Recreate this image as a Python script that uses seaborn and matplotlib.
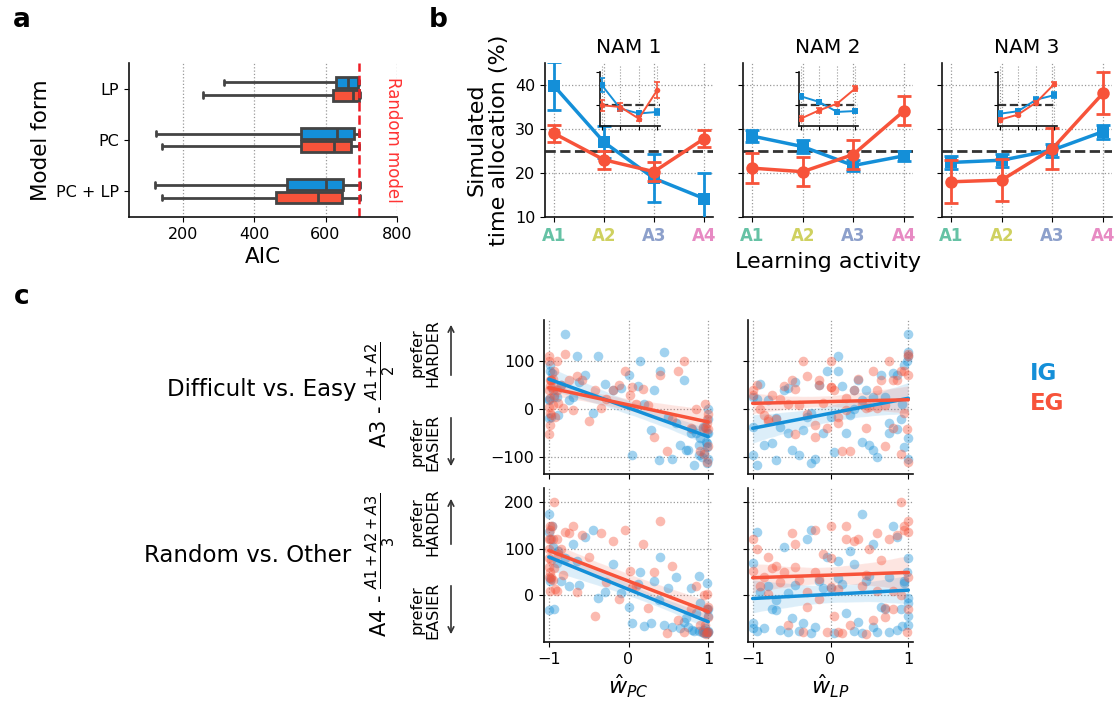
import numpy as np
import pandas as pd
import matplotlib
matplotlib.use('Agg')
import matplotlib.pyplot as plt
import seaborn as sns

# ---------------- data ----------------
# panel a : AIC distributions (min, q1, median, q3, max) per model form and group
aic_models = ['LP', 'PC', 'PC + LP']
aic_lp_ig = [315, 630, 664, 690, 694]
aic_lp_eg = [256, 620, 678, 694, 697]
aic_pc_ig = [125, 530, 633, 680, 694]
aic_pc_eg = [141, 532, 623, 671, 694]
aic_pclp_ig = [122, 493, 602, 650, 697]
aic_pclp_eg = [141, 461, 580, 646, 697]
random_model_aic = 693

# panel b : simulated time allocation (%)
activities = ['A1', 'A2', 'A3', 'A4']
activity_colors = ['#66c2a5', '#cfd160', '#8da0cb', '#e78ac3']
nam_titles = ['NAM 1', 'NAM 2', 'NAM 3']
ig_mean = [[39.8, 27.0, 18.8, 14.2], [28.4, 26.0, 21.7, 23.9], [22.4, 22.9, 25.2, 29.4]]
ig_err = [[5.5, 3.6, 5.5, 5.7], [1.3, 1.4, 1.3, 1.2], [1.4, 1.5, 1.5, 1.6]]
eg_mean = [[29.0, 23.0, 20.3, 27.8], [21.1, 20.3, 24.2, 34.1], [18.0, 18.4, 25.5, 38.1]]
eg_err = [[1.9, 2.0, 2.1, 2.0], [3.4, 3.3, 3.3, 3.3], [4.9, 4.7, 4.7, 4.8]]
# insets
ig_inset = [[34.0, 23.5, 21.3, 22.0], [29.0, 26.5, 22.0, 22.4], [21.2, 22.3, 27.5, 29.5]]
ig_inset_err = [[3.0, 1.2, 1.0, 1.2], [1.0, 1.0, 1.0, 1.0], [1.0, 0.8, 1.0, 1.2]]
eg_inset = [[25.0, 24.2, 19.0, 31.8], [19.0, 22.7, 25.7, 32.5], [18.5, 20.8, 26.2, 34.5]]
eg_inset_err = [[2.5, 2.0, 1.2, 3.5], [1.0, 1.0, 0.8, 1.2], [0.8, 0.8, 0.8, 0.8]]
chance_level = 25

# panel c : per-participant weights and preferences
ig_wpc = [-1.00, -1.00, -0.98, -0.97, -0.99, -0.95, -0.93, -0.90, -0.88, -0.85,
          -0.80, -0.75, -0.70, -0.62, -0.55, -0.45, -0.38, -0.30, -0.20, -0.10,
          0.00, 0.05, 0.12, 0.20, 0.28, 0.32, 0.38, 0.45, 0.50, 0.55,
          0.60, 0.65, 0.70, 0.72, 0.75, 0.78, 0.80, 0.82, 0.85, 0.88,
          0.90, 0.92, 0.94, 0.95, 0.96, 0.97, 0.98, 0.98, 0.99, 0.99,
          1.00, 1.00, 1.00, 1.00, -1.00, -0.96, 0.15, -0.65, 0.40, 0.88]
ig_wlp = [-0.95, 0.40, 0.95, -0.30, 0.10, -0.60, 0.70, -1.00, 0.25, -0.15,
          1.00, -0.80, 0.55, -0.45, 0.85, -0.25, 1.00, -0.90, 0.30, -0.55,
          0.65, -1.00, 0.15, 0.92, -0.35, 0.45, -0.70, 1.00, 0.00, -0.20,
          0.75, -0.85, 0.35, -0.50, 0.55, -0.10, 0.85, -0.95, 0.20, -0.40,
          1.00, 0.60, -0.65, 0.05, -1.00, 0.40, 0.95, -0.25, 0.75, -0.75,
          0.30, 1.00, -0.55, 0.90, -0.70, 0.80, 0.98, 0.10, -0.05, 0.50]
ig_diff = [20, 18, 91, -16, 80, 40, 26, 25, -13, 51,
           157, 19, 25, 56, 70, -9, 110, 52, 40, 44,
           70, -96, 49, 10, -43, 40, -106, 120, -16, -104,
           -30, -75, 60, -85, -86, -50, -42, -118, -50, -97,
           -60, -100, -37, -90, -37, -70, -79, -114, -50, -72,
           0, -104, -50, -20, -19, 76, 100, 110, 80, -75]
ig_rand = [136, 174, 30, 120, 36, 104, -29, 69, 95, 30,
           80, 20, 110, 22, 125, 141, -6, 7, 67, 5,
           -25, -59, 23, -67, -61, 31, -10, -65, 15, -69,
           40, -70, -57, -50, -69, 15, -76, -78, -38, -78,
           -17, -80, -75, -81, -70, -81, 27, -81, -79, -30,
           -78, -44, -80, -30, -32, 150, 50, 73, 83, 42]

eg_wpc = [-1.00, -1.00, -1.00, -0.99, -0.99, -0.98, -0.98, -0.97, -0.97, -0.96,
          -0.95, -0.95, -0.94, -0.93, -0.92, -0.90, -0.88, -0.85, -0.82, -0.80,
          -0.75, -0.70, -0.65, -0.58, -0.50, -0.42, -0.35, -0.28, -0.20, -0.12,
          -0.05, 0.02, 0.10, 0.18, 0.25, 0.32, 0.40, 0.48, 0.55, 0.62,
          0.70, 0.78, 0.85, 0.90, 0.93, 0.95, 0.96, 0.97, 0.98, 0.98,
          0.99, 1.00, 1.00, 1.00, -1.00, -1.00, -0.99, -0.97, -0.90, 0.05]
eg_wlp = [-1.00, 0.50, 1.00, -0.20, 0.80, -0.60, 0.20, -0.85, 0.65, 0.00,
          -0.40, 0.35, 0.90, -0.75, 0.10, 0.75, -0.10, -0.95, 0.45, 1.00,
          -0.50, 0.20, -0.30, 0.85, -0.80, 0.05, 0.60, -0.65, 0.30, -0.15,
          0.95, -1.00, 0.40, -0.45, 0.70, -0.20, 1.00, 0.15, -0.70, 0.55,
          -0.35, 0.80, -0.90, 0.25, -0.05, 0.90, -0.55, 0.45, 1.00, -0.80,
          0.10, 0.70, -0.30, 0.98, 0.00, -0.45, 0.95, -0.15, 0.60, 0.00]
eg_diff = [40, 4, 110, -34, 60, 48, 22, -13, 60, 46,
           8, 62, 80, 30, -16, 100, 13, 51, 2, 115,
           60, -3, 68, 60, -26, 40, 1, 20, 40, 50,
           80, 30, 10, 41, 9, -58, 70, -87, -20, 80,
           100, -40, 0, -87, -40, -95, 10, -40, -111, -20,
           -30, -78, -10, -42, 100, -52, -8, 60, 39, 45]
eg_rand = [120, 100, 40, 140, 8, 50, 120, 40, 76, 150,
           32, 122, 200, 58, 14, 120, 89, 100, 44, 136,
           133, 150, 7, 130, 83, -46, 133, 29, 116, -8,
           140, 52, 20, 110, -27, 50, 160, -82, 63, -53,
           -80, -30, 20, -64, -80, 0, -64, -83, -30, 2,
           -79, -48, -25, -80, 80, 60, 150, 35, 10, 17]

# ---------------- style ----------------
BLUE = '#148fd8'
RED = '#f7533a'
DARK = '#444444'
sns.set_style('ticks')
plt.rcParams['font.family'] = ['DejaVu Sans']
plt.rcParams['mathtext.fontset'] = 'dejavusans'
plt.rcParams['xtick.labelsize'] = 11.5
plt.rcParams['ytick.labelsize'] = 11.5
plt.rcParams['axes.edgecolor'] = '#111111'
plt.rcParams['axes.linewidth'] = 1.2
plt.rcParams['text.color'] = 'black'
plt.rcParams['axes.labelcolor'] = 'black'
plt.rcParams['xtick.color'] = 'black'
plt.rcParams['ytick.color'] = 'black'

W, H = 1120, 704
fig = plt.figure(figsize=(W / 100, H / 100), dpi=100)


def box(l, t, r, b):
    return [l / W, 1 - b / H, (r - l) / W, (b - t) / H]


def grid(ax, axis='both'):
    ax.grid(True, axis=axis, ls=':', color='#999999', lw=0.9)
    ax.set_axisbelow(True)


# ---------------- panel a ----------------
axA = fig.add_axes(box(129, 63, 397, 217))
rows = []
for m, ig, eg in zip(aic_models, [aic_lp_ig, aic_pc_ig, aic_pclp_ig],
                     [aic_lp_eg, aic_pc_eg, aic_pclp_eg]):
    rows += [(m, 'IG', v) for v in ig]
    rows += [(m, 'EG', v) for v in eg]
dfa = pd.DataFrame(rows, columns=['model', 'group', 'AIC'])
sns.boxplot(data=dfa, x='AIC', y='model', hue='group', order=aic_models,
            hue_order=['IG', 'EG'], palette={'IG': BLUE, 'EG': RED},
            whis=(0, 100), width=0.5, gap=0.15, linecolor=DARK, linewidth=2,
            saturation=1, legend=False, ax=axA)
axA.axvline(random_model_aic, color='#ee1c24', ls='--', lw=1.8)
axA.text(788, 0.5, 'Random model', color='#ff3333', rotation=270, fontsize=12,
         ha='center', va='center', transform=axA.get_xaxis_transform())
axA.set_xlim(50, 800)
axA.set_xticks([200, 400, 600, 800])
grid(axA, 'x')
axA.set_xlabel('AIC', fontsize=15.5)
axA.set_ylabel('Model form', fontsize=15.5)
sns.despine(ax=axA)

# ---------------- panel b ----------------
b_pos = [(545, 713), (743, 913), (942, 1112)]
inset_pos = [(600, 660), (799, 858), (998, 1057)]
x = np.arange(len(activities))
for i in range(3):
    ax = fig.add_axes(box(b_pos[i][0], 63, b_pos[i][1], 217))
    ax.axhline(chance_level, color='#333333', ls='--', lw=2, zorder=1.5)
    sns.lineplot(x=x, y=ig_mean[i], color=BLUE, marker='s', markersize=8,
                 markeredgewidth=0, lw=2.5, ax=ax, zorder=3)
    ax.errorbar(x, ig_mean[i], yerr=ig_err[i], fmt='none', ecolor=BLUE,
                elinewidth=2, capsize=5, capthick=2, zorder=3)
    sns.lineplot(x=x, y=eg_mean[i], color=RED, marker='o', markersize=9,
                 markeredgewidth=0, lw=2.5, ax=ax, zorder=4)
    ax.errorbar(x, eg_mean[i], yerr=eg_err[i], fmt='none', ecolor=RED,
                elinewidth=2, capsize=5, capthick=2, zorder=4)
    ax.set_xlim(-0.18, 3.18)
    ax.set_ylim(10, 45)
    ax.set_yticks([10, 20, 30, 40])
    ax.set_xticks(x)
    ax.set_xticklabels(activities, fontweight='bold', fontsize=12)
    for lab, col in zip(ax.get_xticklabels(), activity_colors):
        lab.set_color(col)
    grid(ax)
    ax.set_title(nam_titles[i], fontsize=14.5, pad=7)
    if i == 0:
        ax.set_ylabel('Simulated\ntime allocation (%)', fontsize=16)
    else:
        ax.tick_params(labelleft=False)
    sns.despine(ax=ax)

    ins = fig.add_axes(box(inset_pos[i][0], 65, inset_pos[i][1], 126))
    ins.patch.set_alpha(0)
    ins.axhline(chance_level, color='#333333', ls='--', lw=1.6, zorder=1.5)
    sns.lineplot(x=x, y=ig_inset[i], color=BLUE, marker='s', markersize=4,
                 markeredgewidth=0, lw=1.4, ax=ins, zorder=3)
    ins.errorbar(x, ig_inset[i], yerr=ig_inset_err[i], fmt='none', ecolor=BLUE,
                 elinewidth=1.2, capsize=2.5, capthick=1.2, zorder=3)
    sns.lineplot(x=x, y=eg_inset[i], color=RED, marker='o', markersize=4,
                 markeredgewidth=0, lw=1.4, ax=ins, zorder=4)
    ins.errorbar(x, eg_inset[i], yerr=eg_inset_err[i], fmt='none', ecolor=RED,
                 elinewidth=1.2, capsize=2.5, capthick=1.2, zorder=4)
    ins.set_xlim(-0.1, 3.15)
    ins.set_ylim(15.7, 43)
    ins.set_xticks(x)
    ins.set_yticks([25, 40])
    ins.tick_params(labelleft=False, labelbottom=False, length=3)
    ins.grid(True, axis='x', ls=':', color='#999999', lw=0.8)
    sns.despine(ax=ins)
    ins.spines['left'].set_bounds(15.7, 40)

fig.text(828 / W, 1 - 262 / H, 'Learning activity', fontsize=16,
         ha='center', va='center')

# ---------------- panel c ----------------
ig_df = pd.DataFrame({'wpc': ig_wpc, 'wlp': ig_wlp, 'diff': ig_diff, 'rand': ig_rand})
eg_df = pd.DataFrame({'wpc': eg_wpc, 'wlp': eg_wlp, 'diff': eg_diff, 'rand': eg_rand})
c_cols = [(544, 713), (748, 913)]
c_rows = [(320, 474), (488, 642)]
row_y = ['diff', 'rand']
row_lims = [(-136, 186), (-101, 231)]
row_ticks = [[-100, 0, 100], [0, 100, 200]]
col_x = ['wpc', 'wlp']
col_labels = [r'$\hat{w}_{PC}$', r'$\hat{w}_{LP}$']
axC = [[None, None], [None, None]]
for r in range(2):
    for c in range(2):
        ax = fig.add_axes(box(c_cols[c][0], c_rows[r][0], c_cols[c][1], c_rows[r][1]))
        axC[r][c] = ax
        for df, col in [(ig_df, BLUE), (eg_df, RED)]:
            sns.scatterplot(data=df, x=col_x[c], y=row_y[r], color=col, alpha=0.4,
                            s=48, linewidth=0, ax=ax, zorder=2)
        for df, col in [(ig_df, BLUE), (eg_df, RED)]:
            sns.regplot(data=df, x=col_x[c], y=row_y[r], scatter=False, color=col,
                        line_kws=dict(lw=2.5), ax=ax, truncate=True)
        ax.set_xlim(-1.06, 1.06)
        ax.set_ylim(*row_lims[r])
        ax.set_xticks([-1, 0, 1])
        ax.set_yticks(row_ticks[r])
        grid(ax)
        ax.set_ylabel('')
        if r == 0:
            ax.tick_params(labelbottom=False)
            ax.set_xlabel('')
        else:
            ax.set_xlabel(col_labels[c], fontsize=16)
        if c == 1:
            ax.tick_params(labelleft=False)
        ax.tick_params(labelsize=11.5)
        sns.despine(ax=ax)

fig.text(262 / W, 1 - 389 / H, 'Difficult vs. Easy', fontsize=16.5, ha='center', va='center')
fig.text(248 / W, 1 - 556 / H, 'Random vs. Other', fontsize=16.5, ha='center', va='center')
fig.text(381 / W, 1 - 395 / H, r'A3 - $\frac{A1 + A2}{2}$', fontsize=15,
         rotation=90, ha='center', va='center')
fig.text(381 / W, 1 - 565 / H, r'A4 - $\frac{A1 + A2 + A3}{3}$', fontsize=15,
         rotation=90, ha='center', va='center')
for yc, txt in [(353, 'prefer\nHARDER'), (442, 'prefer\nEASIER'),
                (522, 'prefer\nHARDER'), (610, 'prefer\nEASIER')]:
    fig.text(425 / W, 1 - yc / H, txt, fontsize=11.5, rotation=90,
             ha='center', va='center', multialignment='center', linespacing=1.1)
for y0, y1 in [(378, 322), (415, 469), (547, 496), (583, 637)]:
    axC[0][0].annotate('', xy=(451 / W, 1 - y1 / H), xytext=(451 / W, 1 - y0 / H),
                       xycoords='figure fraction', textcoords='figure fraction',
                       arrowprops=dict(arrowstyle='->', lw=1.2, color='#333333'),
                       annotation_clip=False)

fig.text(1030 / W, 1 - 374 / H, 'IG', color=BLUE, fontsize=16.5, fontweight='bold', va='center')
fig.text(1030 / W, 1 - 404 / H, 'EG', color=RED, fontsize=16.5, fontweight='bold', va='center')

# panel letters
for xx, yy, letter in [(22, 20, 'a'), (438, 20, 'b'), (22, 297, 'c')]:
    fig.text(xx / W, 1 - yy / H, letter, fontsize=19, fontweight='bold',
             ha='center', va='center')

fig.savefig('out.png', dpi=100)
